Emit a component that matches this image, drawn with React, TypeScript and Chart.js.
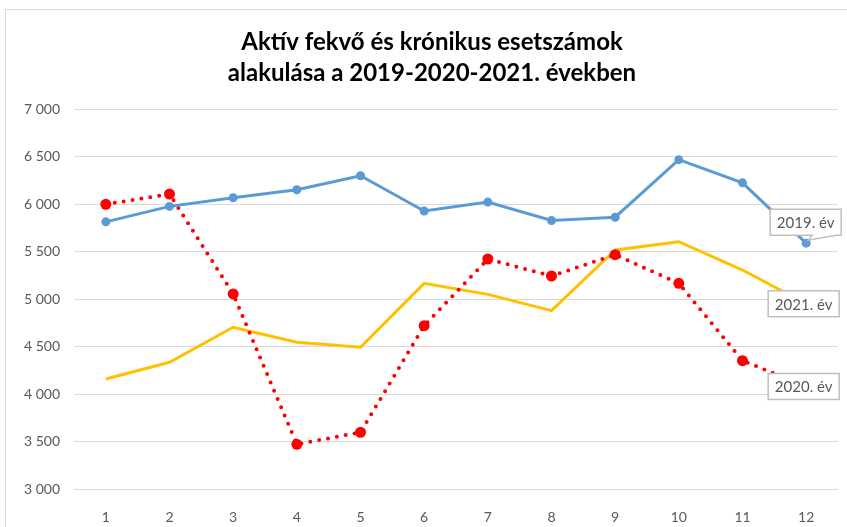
import React, { useEffect, useRef } from "react";
import { Chart, registerables } from "chart.js";

Chart.register(...registerables);

const months = ["1", "2", "3", "4", "5", "6", "7", "8", "9", "10", "11", "12"];
const cases2019 = [5812, 5975, 6066, 6150, 6297, 5926, 6020, 5826, 5861, 6467, 6223, 5588];
const cases2020 = [5997, 6105, 5053, 3470, 3597, 4719, 5421, 5242, 5466, 5165, 4351, 4080];
const cases2021 = [4158, 4334, 4702, 4544, 4492, 5165, 5049, 4877, 5516, 5603, 5305, 4950];
const seriesNames = ["2019. év", "2020. év", "2021. év"];
const titleLines = ["Aktív fekvő és krónikus esetszámok", "alakulása a 2019-2020-2021. években"];

const FONT = "Lato, 'Liberation Sans', sans-serif";

const fmt = (v: number) => String(v).replace(/\B(?=(\d{3})+(?!\d))/g, " ");

const decorPlugin = {
  id: "decor",
  beforeDraw(chart: any) {
    const ctx = chart.ctx;
    ctx.save();
    ctx.fillStyle = "#ffffff";
    ctx.fillRect(0, 0, chart.width, chart.height);
    ctx.strokeStyle = "#d9d9d9";
    ctx.lineWidth = 1;
    ctx.beginPath();
    ctx.moveTo(5.5, chart.height);
    ctx.lineTo(5.5, 9.5);
    ctx.lineTo(chart.width, 9.5);
    ctx.stroke();
    ctx.fillStyle = "#000000";
    ctx.font = `bold 24px ${FONT}`;
    ctx.textAlign = "center";
    ctx.textBaseline = "middle";
    ctx.fillText(titleLines[0], 432, 42);
    ctx.fillText(titleLines[1], 432, 73);
    ctx.restore();
  },
  afterDatasetsDraw(chart: any) {
    const ctx = chart.ctx;
    ctx.save();
    chart.data.datasets.forEach((ds: any, i: number) => {
      const meta = chart.getDatasetMeta(i);
      const pt = meta.data[meta.data.length - 1];
      if (!pt) return;
      const px = pt.x;
      const py = pt.y;
      const w = 71;
      const h = 26;
      ctx.lineWidth = 1.5;
      ctx.strokeStyle = "#bfbfbf";
      ctx.fillStyle = "#ffffff";
      let left: number, top: number;
      ctx.beginPath();
      if (i === 0) {
        left = px - 36;
        top = py - 34;
        const bottom = top + h;
        ctx.moveTo(left, top);
        ctx.lineTo(left + w, top);
        ctx.lineTo(left + w, bottom);
        ctx.lineTo(px + 30, bottom);
        ctx.lineTo(px + 2, py - 3);
        ctx.lineTo(px + 6, bottom);
        ctx.lineTo(left, bottom);
        ctx.closePath();
      } else {
        left = px - 38;
        top = py - 13;
        ctx.rect(left, top, w, h);
      }
      ctx.fill();
      ctx.stroke();
      ctx.fillStyle = "#595959";
      ctx.font = `15px ${FONT}`;
      ctx.textAlign = "center";
      ctx.textBaseline = "middle";
      ctx.fillText(ds.label, left + w / 2, top + h / 2 + 1);
    });
    ctx.restore();
  },
};

export default function App() {
  const ref = useRef<HTMLCanvasElement | null>(null);
  useEffect(() => {
    if (!ref.current) return;
    const chart = new Chart(ref.current, {
      type: "line",
      data: {
        labels: months,
        datasets: [
          {
            label: seriesNames[0],
            data: cases2019,
            borderColor: "#5B9BD5",
            backgroundColor: "#5B9BD5",
            borderWidth: 3,
            pointRadius: 4.5,
            pointBorderWidth: 0,
            pointHoverRadius: 4.5,
            tension: 0,
          },
          {
            label: seriesNames[1],
            data: cases2020,
            borderColor: "#FF0000",
            backgroundColor: "#FF0000",
            borderWidth: 4,
            borderDash: [0, 9],
            borderCapStyle: "round",
            pointRadius: 5.5,
            pointBorderWidth: 0,
            pointHoverRadius: 5.5,
            tension: 0,
          },
          {
            label: seriesNames[2],
            data: cases2021,
            borderColor: "#FFC000",
            backgroundColor: "#FFC000",
            borderWidth: 3,
            pointRadius: 0,
            pointHoverRadius: 0,
            tension: 0,
          },
        ],
      },
      options: {
        responsive: false,
        animation: false,
        layout: { padding: { top: 109, right: 9, left: 0, bottom: 0 } },
        plugins: {
          legend: { display: false },
          title: { display: false },
          tooltip: { enabled: false },
        },
        scales: {
          x: {
            offset: true,
            grid: { display: false },
            border: { display: false },
            ticks: {
              color: "#595959",
              font: { family: FONT, size: 14 },
              padding: 12,
            },
            afterFit: (s: any) => {
              s.height = 38;
            },
          },
          y: {
            min: 3000,
            max: 7000,
            grid: { color: "#d9d9d9", lineWidth: 1, drawTicks: false },
            border: { display: false },
            ticks: {
              stepSize: 500,
              color: "#595959",
              font: { family: FONT, size: 14 },
              padding: 14,
              callback: (v: any) => fmt(Number(v)),
            },
            afterFit: (s: any) => {
              s.width = 74;
            },
          },
        },
      },
      plugins: [decorPlugin],
    });
    return () => chart.destroy();
  }, []);
  return (
    <canvas
      ref={ref}
      width={847}
      height={527}
      style={{ position: "absolute", left: 0, top: 0, width: 847, height: 527 }}
    />
  );
}
